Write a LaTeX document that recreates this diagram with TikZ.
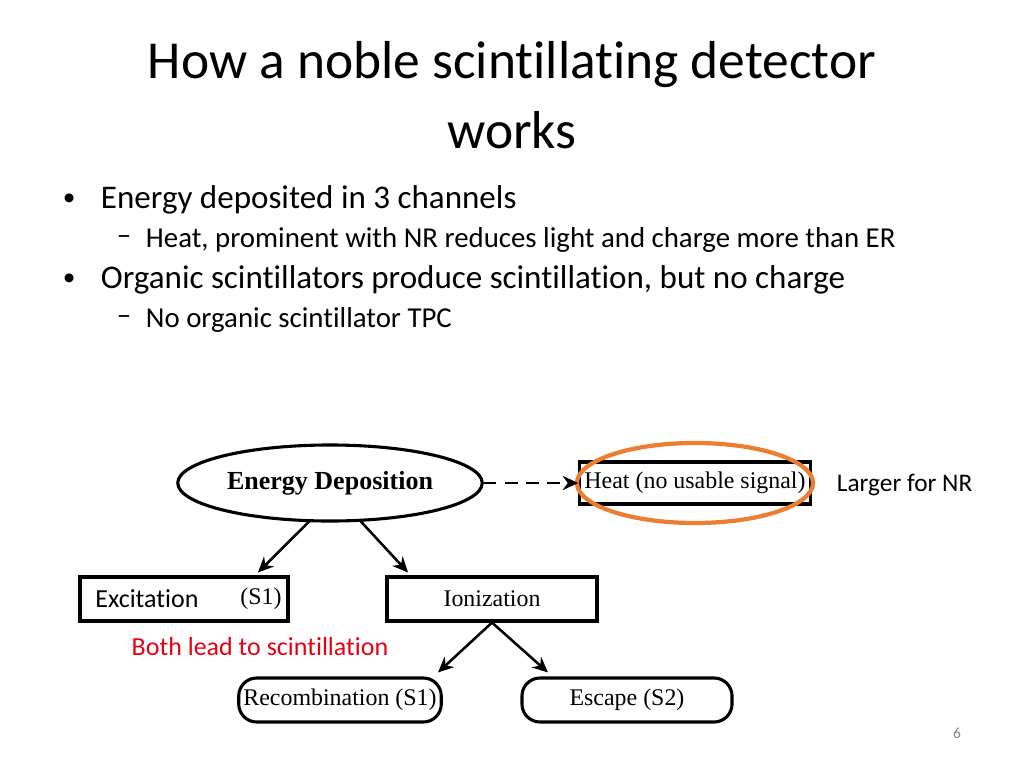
\documentclass[tikz,border=0pt]{standalone}
\usepackage{fontspec}
\setmainfont{Carlito}[Ligatures=NoCommon]
\newfontfamily\diagfont{Liberation Serif}
\usetikzlibrary{shapes,arrows.meta,positioning,calc}
\definecolor{ringorange}{RGB}{237,125,49}
\definecolor{notered}{RGB}{230,0,18}

\begin{document}
\begin{tikzpicture}[x=0.025cm,y=-0.025cm,
  box/.style={draw, line width=2.2pt, minimum width=5.25cm, minimum height=1.1cm, font=\diagfont\fontsize{17}{20}\selectfont},
  pill/.style={box, rounded corners=0.45cm},
  link/.style={-{Stealth[length=11pt,width=10pt]}, line width=1.8pt},
  slide/.style={anchor=west, font=\fontsize{23.5}{28}\selectfont},
  subslide/.style={anchor=west, font=\fontsize{20.5}{24}\selectfont}]
\useasboundingbox (0,0) rectangle (1024,768);

% Title
\node[font=\fontsize{38}{44}\selectfont] (title1) at (512,65) {How a noble scintillating detector};
\node[font=\fontsize{38}{44}\selectfont] (title2) at (512,130) {works};

% Bullets
\node[slide, font=\fontsize{18}{22}\selectfont] (b1dot) at (58,200) {•};
\node[slide] (b1) at (96,200) {Energy deposited in 3 channels};
\node[subslide] (s1dash) at (112,240) {--};
\node[subslide] (s1) at (141,240) {Heat, prominent with NR reduces light and charge more than ER};
\node[slide, font=\fontsize{18}{22}\selectfont] (b2dot) at (58,280) {•};
\node[slide] (b2) at (96,280) {Organic scintillators produce scintillation, but no charge};
\node[subslide] (s2dash) at (112,320) {--};
\node[subslide] (s2) at (141,320) {No organic scintillator TPC};

% Diagram
\node[draw, ellipse, line width=2.2pt, minimum width=7.3cm, minimum height=1.9cm,
  font=\diagfont\bfseries\fontsize{18.5}{22}\selectfont] (edep) at (330,483) {Energy Deposition};
\node[box, minimum height=1.05cm, minimum width=5.25cm] (heat) at (695,483) {Heat (no usable signal)};
\node[draw=ringorange, line width=3pt, ellipse, minimum width=5.9cm, minimum height=2cm] (ring) at (695,483) {};
\node[anchor=west, font=\fontsize{18}{22}\selectfont] (larger) at (832,485) {Larger for NR};

\node[box, minimum width=5.2cm] (excit) at (184,599) {};
\node[anchor=west, font=\fontsize{18.5}{22}\selectfont] (excittxt) at (excit.west) {\hspace{0.3cm}Excitation};
\node[anchor=east, font=\diagfont\fontsize{17}{20}\selectfont] (excits1) at ($(excit.east)+(-3,0)$) {(S1)};
\node[box] (ion) at (492,599) {Ionization};
\node[text=notered, font=\fontsize{18.5}{22}\selectfont] (both) at (260,647) {Both lead to scintillation};
\node[pill, minimum width=4.95cm] (recomb) at (340,700) {Recombination (S1)};
\node[pill] (escape) at (627,700) {Escape (S2)};

\draw[link, dash pattern=on 9pt off 6pt, line width=2pt] (edep.east) -- (heat.west);
\draw[link] ($(edep.south)+(-20,-2)$) -- ($(excit.north)+(74,-3)$);
\draw[link] ($(edep.south)+(30,-2)$) -- ($(ion.north)+(-84,-3)$);
\draw[link] (ion.south) -- ($(recomb.north)+(98,-4)$);
\draw[link] (ion.south) -- ($(escape.north)+(-79,-4)$);

% Page number
\node[text=gray, font=\fontsize{11}{13}\selectfont] (page) at (957,733) {6};
\end{tikzpicture}
\end{document}
